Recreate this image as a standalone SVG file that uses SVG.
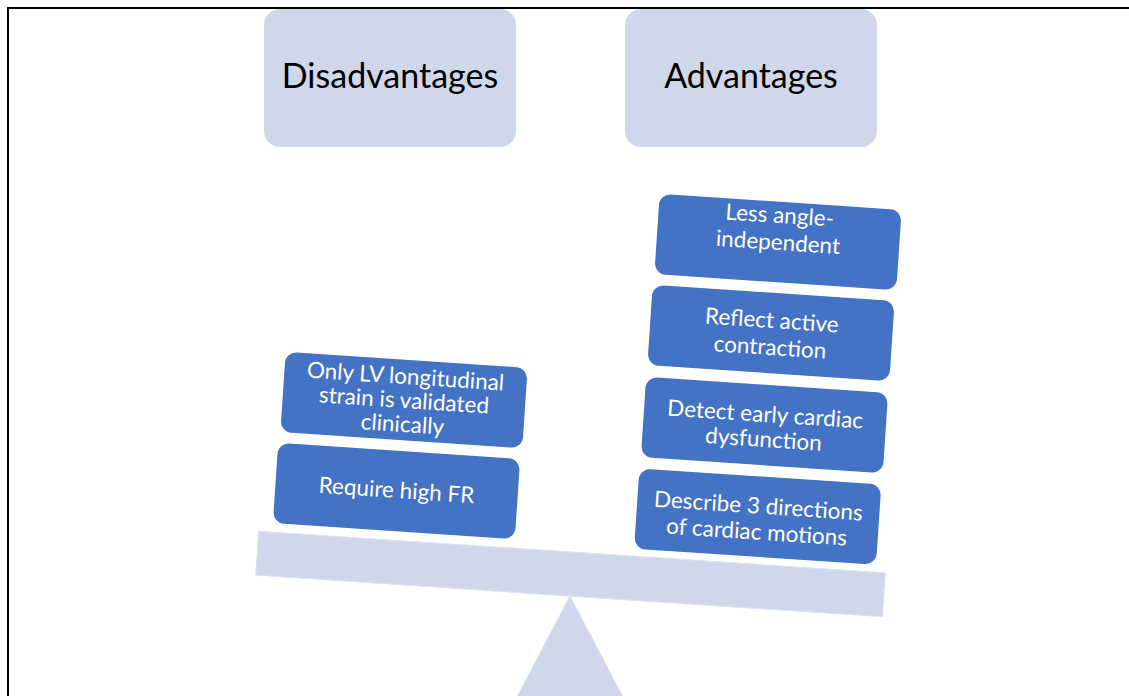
<svg xmlns="http://www.w3.org/2000/svg" width="1129" height="696" viewBox="0 0 1129 696">
  <style>
    .hdr { fill: #D1D7EA; }
    .hdrtxt { font-family: Lato, "Liberation Sans", sans-serif; font-size: 34px; fill: #000000; text-anchor: middle; }
    .item { fill: #4472C4; stroke: #FFFFFF; stroke-width: 1.5; }
    .itemtxt { font-family: Lato, "Liberation Sans", sans-serif; font-size: 22.5px; fill: #FFFFFF; text-anchor: middle; }
    .scale { fill: #D1D7EA; stroke: #DCE1F0; stroke-width: 1; }
  </style>
  <rect x="0" y="0" width="1129" height="696" fill="#FFFFFF"/>
  <!-- frame -->
  <path d="M8 696 V8 H1129" fill="none" stroke="#000000" stroke-width="2"/>

  <g id="disadvantages-header">
    <rect class="hdr" x="264" y="9" width="252" height="138" rx="16"/>
    <text class="hdrtxt" x="390" y="88">Disadvantages</text>
  </g>
  <g id="advantages-header">
    <rect class="hdr" x="625" y="9" width="252" height="138" rx="16"/>
    <text class="hdrtxt" x="751" y="88">Advantages</text>
  </g>

  <g id="fulcrum">
    <polygon class="scale" points="570,596 517,697 623,697" stroke="none"/>
  </g>
  <g id="beam" transform="translate(570.5,574) rotate(3.8)">
    <rect class="scale" x="-314" y="-22" width="628" height="44"/>
  </g>

  <g id="dis-1" transform="translate(404,400) rotate(3.8)">
    <rect class="item" x="-122" y="-41" width="244" height="82" rx="12"/>
    <text class="itemtxt" x="0" y="-16">Only LV longitudinal</text>
    <text class="itemtxt" x="0" y="8">strain is validated</text>
    <text class="itemtxt" x="0" y="32">clinically</text>
  </g>
  <g id="dis-2" transform="translate(396.5,491) rotate(3.8)">
    <rect class="item" x="-122" y="-41" width="244" height="82" rx="12"/>
    <text class="itemtxt" x="0" y="7">Require high FR</text>
  </g>

  <g id="adv-1" transform="translate(778,242) rotate(3.8)">
    <rect class="item" x="-122" y="-41" width="244" height="82" rx="12"/>
    <text class="itemtxt" x="0" y="-19">Less angle-</text>
    <text class="itemtxt" x="0" y="8">independent</text>
  </g>
  <g id="adv-2" transform="translate(771,333) rotate(3.8)">
    <rect class="item" x="-122" y="-41" width="244" height="82" rx="12"/>
    <text class="itemtxt" x="0" y="-5">Reflect active</text>
    <text class="itemtxt" x="0" y="22">contraction</text>
  </g>
  <g id="adv-3" transform="translate(764.5,425) rotate(3.8)">
    <rect class="item" x="-122" y="-41" width="244" height="82" rx="12"/>
    <text class="itemtxt" x="0" y="-3">Detect early cardiac</text>
    <text class="itemtxt" x="0" y="22">dysfunction</text>
  </g>
  <g id="adv-4" transform="translate(757.7,516.6) rotate(3.8)">
    <rect class="item" x="-122" y="-41" width="244" height="82" rx="12"/>
    <text class="itemtxt" x="0" y="-3">Describe 3 directions</text>
    <text class="itemtxt" x="0" y="23">of cardiac motions</text>
  </g>
</svg>
